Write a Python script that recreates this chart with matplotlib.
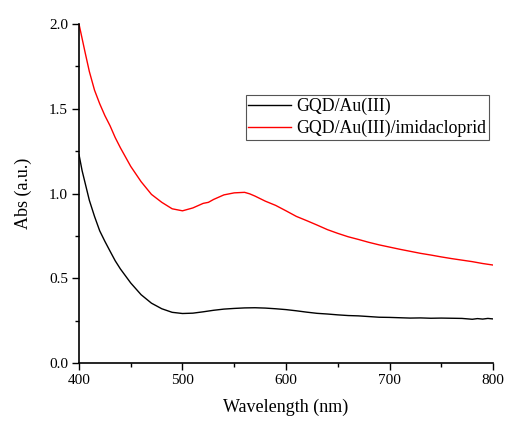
import matplotlib
matplotlib.use("Agg")
import matplotlib.pyplot as plt
from matplotlib.ticker import MultipleLocator

plt.rcParams['font.family'] = ['Liberation Serif', 'DejaVu Serif']

wl_red = [400, 403, 406, 410, 415, 420, 425, 430, 435, 440, 450, 460, 470, 480, 490, 500, 510,
          520, 525, 530, 540, 550, 560, 565, 570, 580, 590, 600, 610, 620, 630, 640, 650, 660,
          670, 680, 690, 700, 710, 720, 730, 740, 750, 760, 770, 780, 790, 800]
abs_red = [2.00, 1.915, 1.83, 1.72, 1.61, 1.53, 1.46, 1.40, 1.33, 1.27, 1.16, 1.07, 0.995,
           0.948, 0.91, 0.898, 0.915, 0.942, 0.948, 0.965, 0.992, 1.004, 1.007, 0.998, 0.985,
           0.955, 0.930, 0.898, 0.865, 0.840, 0.814, 0.787, 0.765, 0.745, 0.729, 0.712, 0.697,
           0.684, 0.671, 0.659, 0.647, 0.637, 0.626, 0.616, 0.607, 0.598, 0.587, 0.578]

wl_black = [400, 403, 406, 410, 415, 420, 425, 430, 435, 440, 450, 460, 470, 480, 490, 500,
            510, 520, 530, 540, 550, 560, 570, 580, 590, 600, 610, 620, 630, 640, 650, 660,
            670, 680, 690, 700, 710, 720, 730, 740, 750, 760, 770, 780, 785, 790, 795, 800]
abs_black = [1.23, 1.135, 1.06, 0.96, 0.865, 0.78, 0.718, 0.66, 0.603, 0.555, 0.472, 0.403,
             0.353, 0.320, 0.299, 0.292, 0.294, 0.302, 0.311, 0.318, 0.322, 0.325, 0.326,
             0.324, 0.320, 0.315, 0.308, 0.300, 0.293, 0.289, 0.284, 0.280, 0.278, 0.274,
             0.270, 0.269, 0.267, 0.265, 0.266, 0.264, 0.265, 0.264, 0.263, 0.258, 0.262,
             0.259, 0.263, 0.260]

labels = ["GQD/Au(III)", "GQD/Au(III)/imidacloprid"]

fig = plt.figure(figsize=(5.08, 4.21), dpi=100)
ax = fig.add_axes([0.1555, 0.1378, 0.815, 0.805])
ax.plot(wl_black, abs_black, color='black', lw=1.0, label=labels[0])
ax.plot(wl_red, abs_red, color='red', lw=1.0, label=labels[1])

ax.set_xlim(400, 800)
ax.set_ylim(0.0, 2.0)
ax.xaxis.set_major_locator(MultipleLocator(100))
ax.xaxis.set_minor_locator(MultipleLocator(50))
ax.yaxis.set_major_locator(MultipleLocator(0.5))
ax.yaxis.set_minor_locator(MultipleLocator(0.25))
ax.spines['top'].set_visible(False)
ax.spines['right'].set_visible(False)
for s in ['left', 'bottom']:
    ax.spines[s].set_linewidth(1.2)
ax.tick_params(which='major', direction='out', length=5, width=1.0, labelsize=11, pad=3)
ax.tick_params(which='minor', direction='out', length=3, width=1.0)
ax.set_xlabel("Wavelength (nm)", fontsize=13, labelpad=8)
ax.set_ylabel("Abs (a.u.)", fontsize=13, labelpad=12)

leg = ax.legend(loc='upper right', bbox_to_anchor=(0.99, 0.79), fontsize=12.8,
                fancybox=False, framealpha=1, edgecolor='#555555', borderpad=0.15,
                handlelength=2.4, handletextpad=0.3, labelspacing=0.25, borderaxespad=0)
leg.get_frame().set_linewidth(0.8)

fig.savefig("out.png", dpi=100)
